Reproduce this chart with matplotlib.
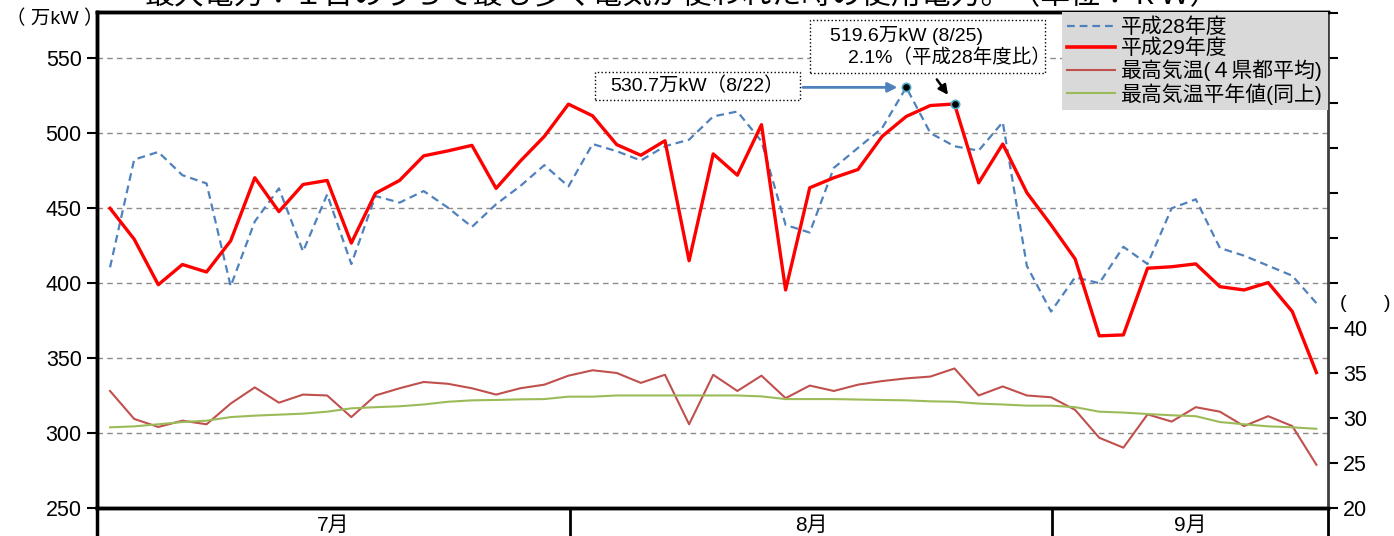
import numpy as np
import matplotlib.pyplot as plt
from matplotlib.ticker import FixedLocator, FuncFormatter
from matplotlib.lines import Line2D
from matplotlib.patches import Rectangle

plt.rcParams['font.family'] = ['Liberation Sans', 'Noto Sans CJK JP', 'DejaVu Sans']

# 営業日ごとの最大電力（万kW）と最高気温（℃）
h28 = [410.6, 482.5, 487.6, 472.1, 466.6, 398.0, 441.2, 463.3, 421.2, 459.3,
       412.8, 458.2, 453.8, 461.5, 450.5, 437.6, 452.7, 464.8, 478.8, 464.6,
       492.9, 488.1, 481.9, 491.4, 495.8, 511.3, 514.6, 494.7, 438.9, 433.8,
       477.0, 490.3, 503.5, 530.7, 500.2, 491.4, 488.5, 507.5, 411.5, 381.1,
       404.0, 400.0, 424.3, 412.8, 450.0, 456.0, 423.5, 418.4, 411.7, 405.0,
       386.7]
h29 = [450.0, 429.4, 399.0, 412.5, 407.5, 428.3, 470.4, 447.8, 465.9, 468.6,
       426.8, 460.0, 468.6, 485.0, 488.3, 492.0, 463.3, 481.4, 498.0, 519.5,
       511.7, 492.5, 485.4, 495.1, 415.0, 486.3, 472.1, 505.8, 395.5, 463.7,
       470.4, 475.9, 498.0, 511.3, 518.6, 519.6, 467.0, 492.9, 460.4, 438.9,
       416.2, 364.9, 365.5, 410.0, 411.0, 412.9, 397.7, 395.5, 400.4, 381.1,
       340.4]
tmax = [33.0, 29.9, 29.0, 29.7, 29.3, 31.6, 33.4, 31.7, 32.6, 32.5,
        30.1, 32.5, 33.3, 34.0, 33.8, 33.3, 32.6, 33.3, 33.7, 34.7,
        35.3, 35.0, 33.9, 34.8, 29.3, 34.8, 33.0, 34.7, 32.2, 33.6,
        33.0, 33.7, 34.1, 34.4, 34.6, 35.5, 32.5, 33.5, 32.5, 32.3,
        30.9, 27.8, 26.7, 30.4, 29.6, 31.2, 30.7, 29.1, 30.2, 29.1,
        24.8]
tnorm = [28.96, 29.07, 29.3, 29.55, 29.7, 30.1, 30.26, 30.37, 30.48, 30.7,
         31.07, 31.2, 31.3, 31.5, 31.8, 31.96, 32.0, 32.07, 32.1, 32.37,
         32.37, 32.5, 32.5, 32.5, 32.5, 32.5, 32.5, 32.4, 32.1, 32.1,
         32.1, 32.05, 32.0, 31.96, 31.85, 31.8, 31.6, 31.5, 31.37, 31.37,
         31.2, 30.7, 30.6, 30.44, 30.3, 30.2, 29.55, 29.3, 29.07, 28.96,
         28.8]
months = ['7月', '8月', '9月']
month_edges = [-0.54, 19.06, 39.04, 50.48]
idx_h28_peak = 33
idx_h29_peak = 35

x = np.arange(len(h29))

fig = plt.figure(figsize=(13.94, 5.36), dpi=100)
ax = fig.add_axes([97 / 1394, 1 - 508 / 536, (1328 - 97) / 1394, (508 - 12) / 536])
ax2 = ax.twinx()

ax.plot(x, h28, color='#4F81BD', lw=1.6, dashes=(3.5, 2.2))
ax.plot(x, h29, color='#FF0000', lw=2.4)
ax2.plot(x, tmax, color='#C0504D', lw=1.5)
ax2.plot(x, tnorm, color='#9BBB59', lw=1.5)

ax.plot([x[idx_h28_peak]], [h28[idx_h28_peak]], 'o', ms=6, mfc='black', mec='#4BACC6', mew=1.2, zorder=5)
ax.plot([x[idx_h29_peak]], [h29[idx_h29_peak]], 'o', ms=6, mfc='black', mec='#4BACC6', mew=1.2, zorder=5)

ax.set_xlim(month_edges[0], month_edges[-1])
ax.set_ylim(250, 581)
ax2.set_ylim(20, 75.1)

ax.set_yticks([250, 300, 350, 400, 450, 500, 550])
for v in [300, 350, 400, 450, 500, 550]:
    ax.axhline(v, color='#8C8C8C', lw=1, dashes=(4, 3), zorder=0)

ax2.yaxis.set_major_locator(FixedLocator(np.arange(20, 76, 5)))
ax2.yaxis.set_major_formatter(FuncFormatter(lambda v, p: f'{v:.0f}' if v <= 40 else ''))

ax.set_xticks([])
ax.tick_params(axis='y', labelsize=15.5, length=7, width=1.5, direction='out', pad=4)
ax2.tick_params(axis='y', labelsize=15.5, length=7, width=1.5, direction='out', pad=4)

for s in ['left', 'bottom', 'top']:
    ax.spines[s].set_linewidth(2.5)
    ax2.spines[s].set_linewidth(2.5)
ax2.spines['right'].set_linewidth(2)
ax2.spines['right'].set_color('#404040')

# 月の区切りとラベル
for e in month_edges:
    ax.plot([e, e], [0, -0.1], transform=ax.get_xaxis_transform(), color='black',
            lw=2.5 if e == month_edges[0] else 2, clip_on=False)
for i, m in enumerate(months):
    ax.text((month_edges[i] + month_edges[i + 1]) / 2, -0.035, m,
            transform=ax.get_xaxis_transform(), ha='center', va='center', fontsize=15)

fig.text(6 / 1394, 1 - 19 / 536, '（ 万kW ）', fontsize=14, va='center', ha='left')
fig.text(1343 / 1394, 1 - 303 / 536, '(', fontsize=14, va='center', ha='center')
fig.text(1387 / 1394, 1 - 303 / 536, ')', fontsize=14, va='center', ha='center')

# 欄外タイトル（上端で切れている）
fig.text(682 / 1394, 1 - 10 / 536,
         '最大電力：１日のうちで最も多く電気が使われた時の使用電力。（単位：ｋＷ）',
         fontsize=21.5, ha='center', va='bottom')

# 注釈
ax.add_patch(Rectangle((20.1, 522.2), 8.5, 18.7, fc='white', ec='black', ls=':', lw=1, zorder=3))
ax.text(24.33, 531.5, '530.7万kW（8/22）', fontsize=14, ha='center', va='center', zorder=4)
ax.annotate('', xy=(x[idx_h28_peak] - 0.25, h28[idx_h28_peak]), xytext=(28.6, h28[idx_h28_peak]),
            arrowprops=dict(arrowstyle='-|>', color='#4F81BD', lw=2, mutation_scale=14))

ax.add_patch(Rectangle((29.0, 540.2), 9.75, 35.3, fc='white', ec='black', ls=':', lw=1, zorder=3))
ax.text(29.84, 565.5, '519.6万kW (8/25)', fontsize=14, ha='left', va='center', zorder=4)
ax.text(30.6, 550.2, '2.1%（平成28年度比）', fontsize=14, ha='left', va='center', zorder=4)
ax.annotate('', xy=(34.8, 524.2), xytext=(34.2, 537.5),
            arrowprops=dict(arrowstyle='-|>', color='black', lw=1.8, mutation_scale=14))

handles = [Line2D([], [], color='#4F81BD', lw=1.6, dashes=(3.5, 2.2)),
           Line2D([], [], color='#FF0000', lw=2.6),
           Line2D([], [], color='#C0504D', lw=1.5),
           Line2D([], [], color='#9BBB59', lw=1.5)]
labels = ['平成28年度', '平成29年度', '最高気温(４県都平均)', '最高気温平年値(同上)']
leg = ax2.legend(handles, labels, loc='upper right', bbox_to_anchor=(1, 1), borderaxespad=0,
                 fontsize=15, facecolor='#D9D9D9', edgecolor='none', framealpha=1, fancybox=False,
                 handlelength=2.3, handletextpad=0.3, labelspacing=0.08, borderpad=0.25)

fig.savefig('out.png', dpi=100)
